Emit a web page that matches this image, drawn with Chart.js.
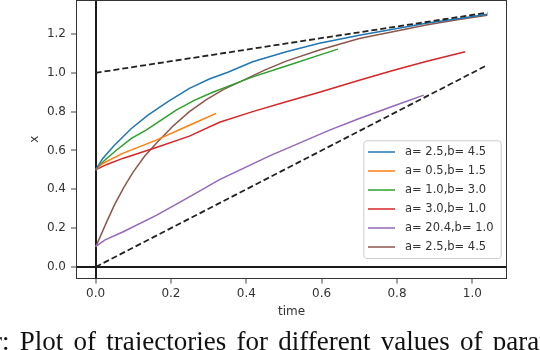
<!DOCTYPE html>
<html>
<head>
<meta charset="utf-8">
<script src="https://cdn.jsdelivr.net/npm/chart.js@4/dist/chart.umd.min.js"></script>
<style>
  html, body { margin: 0; padding: 0; background: #fff; overflow: hidden; }
  #wrap { position: relative; width: 540px; height: 350px; overflow: hidden; }
  #c { position: absolute; left: 0; top: 0; }
  #caption { position: absolute; left: -7px; top: 328px; white-space: nowrap; line-height: 27px;
    font-family: "Liberation Serif", "DejaVu Serif", serif; font-size: 27px; word-spacing: 3.5px; color: #111; }
</style>
</head>
<body>
<div id="wrap">
  <canvas id="c" width="540" height="350"></canvas>
  <div id="caption">r: Plot of trajectories for different values of parameters</div>
</div>
<script>
// ---------- data ----------
const seriesLabels = ["a= 2.5,b= 4.5", "a= 0.5,b= 1.5", "a= 1.0,b= 3.0", "a= 3.0,b= 1.0", "a= 20.4,b= 1.0", "a= 2.5,b= 4.5"];

const blueT = [0, 0.019, 0.05, 0.095, 0.139, 0.192, 0.249, 0.302, 0.351, 0.417, 0.506, 0.594, 0.70, 0.789, 0.877, 0.966, 1.04];
const blueX = [0.5, 0.559, 0.627, 0.713, 0.782, 0.851, 0.920, 0.968, 1.003, 1.057, 1.108, 1.152, 1.194, 1.224, 1.255, 1.280, 1.302];

const orangeT = [0, 0.019, 0.072, 0.161, 0.249, 0.32];
const orangeX = [0.5, 0.533, 0.585, 0.653, 0.730, 0.791];

const greenT = [0, 0.019, 0.055, 0.095, 0.134, 0.174, 0.214, 0.263, 0.311, 0.351, 0.417, 0.506, 0.594, 0.643];
const greenX = [0.5, 0.541, 0.601, 0.662, 0.705, 0.756, 0.808, 0.859, 0.900, 0.930, 0.979, 1.035, 1.091, 1.122];

const redT = [0, 0.03, 0.072, 0.161, 0.249, 0.329, 0.417, 0.506, 0.594, 0.70, 0.789, 0.877, 0.981];
const redX = [0.5, 0.528, 0.559, 0.615, 0.674, 0.745, 0.800, 0.851, 0.900, 0.962, 1.012, 1.058, 1.108];

const purpleT = [0, 0.024, 0.072, 0.161, 0.249, 0.329, 0.462, 0.621, 0.70, 0.789, 0.871];
const purpleX = [0.105, 0.138, 0.180, 0.266, 0.361, 0.450, 0.572, 0.705, 0.765, 0.828, 0.885];

const brownT = [0, 0.012, 0.03, 0.05, 0.075, 0.1, 0.13, 0.165, 0.205, 0.249, 0.294, 0.34, 0.39, 0.45, 0.506, 0.594, 0.70, 0.789, 0.877, 0.96, 1.04];
const brownX = [0.103, 0.155, 0.235, 0.32, 0.41, 0.49, 0.57, 0.645, 0.725, 0.80, 0.862, 0.915, 0.96, 1.015, 1.06, 1.117, 1.177, 1.211, 1.246, 1.273, 1.297];

// dashed bounds
const upperT = [0, 1.04];
const upperX = [1.0, 1.31];
const lowerT = [0, 1.04];
const lowerX = [0, 1.04];

const xTicks = [0, 0.2, 0.4, 0.6, 0.8, 1.0];
const yTicks = [0, 0.2, 0.4, 0.6, 0.8, 1.0, 1.2];
const xRange = [-0.052, 1.092];
const yRange = [-0.06, 1.375];

// ---------- build ----------
const pts = (t, x) => t.map((v, i) => ({ x: v, y: x[i] }));
const colors = ["#1f77b4", "#ff7f0e", "#2ca02c", "#d62728", "#9467bd", "#8c564b"];
const curves = [[blueT, blueX], [orangeT, orangeX], [greenT, greenX], [redT, redX], [purpleT, purpleX], [brownT, brownX]];

const datasets = [
  { label: "_upper", data: pts(upperT, upperX), borderColor: "#222", borderWidth: 1.8, borderDash: [6, 3], pointRadius: 0, fill: false },
  { label: "_lower", data: pts(lowerT, lowerX), borderColor: "#222", borderWidth: 1.8, borderDash: [6, 3], pointRadius: 0, fill: false }
];
curves.forEach((c, i) => datasets.push({
  label: seriesLabels[i], data: pts(c[0], c[1]), borderColor: colors[i], borderWidth: 1.5,
  pointRadius: 0, fill: false, tension: 0
}));

const framePlugin = {
  id: "frame",
  afterDatasetsDraw(chart) {
    const { ctx, chartArea: a } = chart;
    ctx.save();
    ctx.strokeStyle = "#333";
    ctx.lineWidth = 1;
    ctx.strokeRect(Math.round(a.left) + 0.5, Math.round(a.top) + 0.5, Math.round(a.right - a.left) - 1, Math.round(a.bottom - a.top) - 1);
    ctx.restore();
  }
};

const legendPlugin = {
  id: "boxLegend",
  afterDraw(chart) {
    const { ctx, chartArea: a } = chart;
    const w = 137.4, h = 117.7;
    const x0 = a.right - 143.7, y0 = a.bottom - 138.3;
    ctx.save();
    ctx.beginPath();
    ctx.roundRect(x0 + 0.5, y0 + 0.5, w, h, 3);
    ctx.fillStyle = "rgba(255,255,255,0.85)";
    ctx.fill();
    ctx.strokeStyle = "#cccccc";
    ctx.lineWidth = 1;
    ctx.stroke();
    ctx.font = "11.5px 'DejaVu Sans'";
    ctx.textBaseline = "middle";
    ctx.textAlign = "left";
    const items = chart.data.datasets.filter(d => !d.label.startsWith("_"));
    items.forEach((d, i) => {
      const y = y0 + 11.7 + 19 * i;
      ctx.strokeStyle = d.borderColor;
      ctx.lineWidth = 1.5;
      ctx.beginPath();
      ctx.moveTo(x0 + 4.7, y);
      ctx.lineTo(x0 + 31.7, y);
      ctx.stroke();
      ctx.fillStyle = "#333";
      ctx.fillText(d.label, x0 + 41.7, y + 0.5);
    });
    ctx.restore();
  }
};

const zeroColor = ctx => (ctx.tick && ctx.tick.value === 0) ? "#1a1a1a" : "rgba(0,0,0,0)";
const zeroWidth = ctx => (ctx.tick && ctx.tick.value === 0) ? 2 : 0;

new Chart(document.getElementById("c"), {
  type: "line",
  data: { datasets },
  options: {
    responsive: false,
    animation: false,
    devicePixelRatio: 1,
    layout: { padding: { left: 28, right: 33, top: 0, bottom: 31 } },
    plugins: { legend: { display: false }, tooltip: { enabled: false } },
    scales: {
      x: {
        type: "linear", min: xRange[0], max: xRange[1],
        afterBuildTicks: s => { s.ticks = xTicks.map(v => ({ value: v })); },
        afterFit: s => { s.height = 40.4; s.paddingLeft = 0; s.paddingRight = 0; },
        border: { display: false },
        grid: { color: zeroColor, lineWidth: zeroWidth, tickColor: "#444", tickWidth: 1, tickLength: 5 },
        ticks: { padding: 3, color: "#333", font: { family: "DejaVu Sans", size: 12 }, callback: v => v.toFixed(1), maxRotation: 0 },
        title: { display: true, text: "time", color: "#333", font: { family: "DejaVu Sans", size: 12 }, padding: 0 }
      },
      y: {
        type: "linear", min: yRange[0], max: yRange[1],
        afterBuildTicks: s => { s.ticks = yTicks.map(v => ({ value: v })); },
        afterFit: s => { s.width = 48; s.paddingTop = 0; s.paddingBottom = 0; },
        border: { display: false },
        grid: { color: zeroColor, lineWidth: zeroWidth, tickColor: "#444", tickWidth: 1, tickLength: 5 },
        ticks: { padding: 5, color: "#333", font: { family: "DejaVu Sans", size: 12 }, callback: v => v.toFixed(1) },
        title: { display: true, text: "x", color: "#333", font: { family: "DejaVu Sans", size: 12 }, padding: 0 }
      }
    }
  },
  plugins: [framePlugin, legendPlugin]
});
</script>
</body>
</html>
